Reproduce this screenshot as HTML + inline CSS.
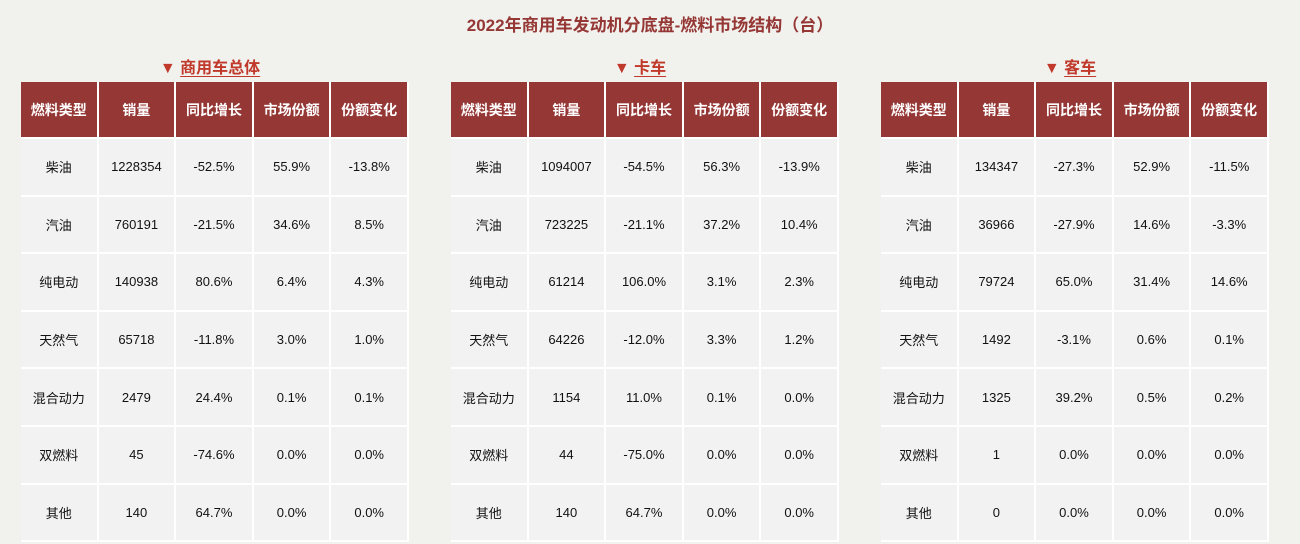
<!DOCTYPE html>
<html><head><meta charset="utf-8">
<style>
body{margin:0;width:1300px;height:544px;background:#f1f1ee;font-family:"Liberation Sans","Noto Sans CJK SC",sans-serif;position:relative;overflow:hidden}
.title{position:absolute;top:11px;left:0;width:1300px;text-align:center;color:#953735;font-weight:bold;font-size:17px}
.sub{position:absolute;top:54px;color:#c0392b;font-weight:bold;font-size:16px;text-align:center;width:390px}
.sub span{text-decoration:underline;text-underline-offset:3px}
.cell{position:absolute;box-sizing:border-box;display:flex;align-items:center;justify-content:center;font-size:13px;color:#111;background:#f2f2f2;border-right:2px solid #fff;border-bottom:2px solid #fff}
.hd{background:#953735;color:#fff;font-weight:bold;font-size:14px}
</style></head><body>
<div class="title">2022年商用车发动机分底盘-燃料市场结构（台）</div>
<div id="root"></div>
<script>
const headers=["燃料类型","销量","同比增长","市场份额","份额变化"];
const fuels=["柴油","汽油","纯电动","天然气","混合动力","双燃料","其他"];
const titles=["商用车总体","卡车","客车"];
const sales=[[1228354,760191,140938,65718,2479,45,140],[1094007,723225,61214,64226,1154,44,140],[134347,36966,79724,1492,1325,1,0]];
const yoy=[["-52.5%","-21.5%","80.6%","-11.8%","24.4%","-74.6%","64.7%"],["-54.5%","-21.1%","106.0%","-12.0%","11.0%","-75.0%","64.7%"],["-27.3%","-27.9%","65.0%","-3.1%","39.2%","0.0%","0.0%"]];
const share=[["55.9%","34.6%","6.4%","3.0%","0.1%","0.0%","0.0%"],["56.3%","37.2%","3.1%","3.3%","0.1%","0.0%","0.0%"],["52.9%","14.6%","31.4%","0.6%","0.5%","0.0%","0.0%"]];
const chg=[["-13.8%","8.5%","4.3%","1.0%","0.1%","0.0%","0.0%"],["-13.9%","10.4%","2.3%","1.2%","0.0%","0.0%","0.0%"],["-11.5%","-3.3%","14.6%","0.1%","0.2%","0.0%","0.0%"]];
const root=document.getElementById('root');
const lefts=[21,451,881],colW=77.6,hdTop=82,hdH=57,rowH=57.6;
function mk(cls,x,y,w,h,txt){const d=document.createElement('div');d.className=cls;d.style.left=x+'px';d.style.top=y+'px';d.style.width=w+'px';d.style.height=h+'px';d.textContent=txt;root.appendChild(d);return d;}
titles.forEach((t,ti)=>{
  const L=lefts[ti];
  const s=document.createElement('div');s.className='sub';s.style.left=(L-6)+'px';s.innerHTML='▼ <span>'+t+'</span>';
  
  
  root.appendChild(s);
  headers.forEach((h,ci)=>{const d=mk('cell hd',L+ci*colW,hdTop,colW,hdH,h);
    
    });
  fuels.forEach((f,ri)=>{
    const vals=[f,String(sales[ti][ri]),yoy[ti][ri],share[ti][ri],chg[ti][ri]];
    vals.forEach((v,ci)=>{const d=mk('cell',L+ci*colW,hdTop+hdH+ri*rowH,colW,rowH,v);
      
      });
  });
});
</script>
</body></html>
